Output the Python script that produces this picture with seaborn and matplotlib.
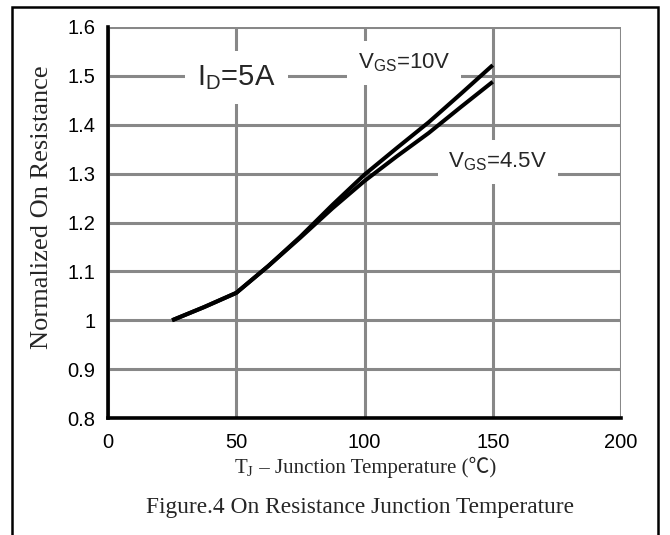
import matplotlib
matplotlib.use("Agg")
import matplotlib.pyplot as plt
import matplotlib.patches as mpatches
from matplotlib.offsetbox import TextArea, HPacker, AnchoredOffsetbox
import seaborn as sns
import pandas as pd

# ---- data ----
temp_c = [25, 37.5, 50, 62.5, 75, 87.5, 100, 112.5, 125, 137.5, 150]
r_vgs_10v = [1.0, 1.027, 1.056, 1.111, 1.171, 1.236, 1.298, 1.352, 1.405, 1.463, 1.522]
r_vgs_45v = [1.0, 1.027, 1.056, 1.111, 1.169, 1.229, 1.285, 1.335, 1.383, 1.436, 1.488]
series_names = ["VGS=10V", "VGS=4.5V"]
x_ticks = [0, 50, 100, 150, 200]
y_ticks = [0.8, 0.9, 1.0, 1.1, 1.2, 1.3, 1.4, 1.5, 1.6]
y_tick_labels = ["0.8", "0.9", "1", "1.1", "1.2", "1.3", "1.4", "1.5", "1.6"]

df = pd.DataFrame({
    "T": temp_c * 2,
    "R": r_vgs_10v + r_vgs_45v,
    "series": [series_names[0]] * len(temp_c) + [series_names[1]] * len(temp_c),
})

sns.set_style("white")
plt.rcParams["font.family"] = ["Liberation Sans", "DejaVu Sans"]
plt.rcParams["mathtext.fontset"] = "custom"
plt.rcParams["mathtext.rm"] = "Liberation Serif"
plt.rcParams["mathtext.sf"] = "Liberation Sans"

fig = plt.figure(figsize=(6.7, 5.35), dpi=100)
ax = fig.add_axes([108 / 670, 1 - 418 / 535, (621 - 108) / 670, (418 - 27) / 535])

sns.lineplot(data=df, x="T", y="R", units="series", estimator=None,
             color="black", linewidth=2.9, ax=ax, legend=False, zorder=5)
for ln in ax.lines:
    ln.set_solid_joinstyle("round")
    ln.set_solid_capstyle("butt")

ax.set_xlim(0, 200)
ax.set_ylim(0.8, 1.6)
ax.set_xticks(x_ticks)
ax.set_yticks(y_ticks)
ax.set_yticklabels(y_tick_labels)
ax.tick_params(axis="both", length=0, labelsize=14.5, colors="black")
ax.tick_params(axis="x", pad=11)
ax.tick_params(axis="y", pad=9)
ax.grid(True, color="#888888", linewidth=2.2)
ax.set_axisbelow(True)
for s in ["top", "right"]:
    ax.spines[s].set_visible(False)
for s in ["left", "bottom"]:
    ax.spines[s].set_color("black")
    ax.spines[s].set_linewidth(2.6)
    ax.spines[s].set_zorder(6)
ax.set_xlabel("")
ax.set_ylabel("")

# annotations with white boxes that interrupt the grid
ax.text(50, 1.497, r"I$_{\mathsf{D}}$=5A", fontsize=21, ha="center", va="center",
        zorder=4, bbox=dict(boxstyle="square,pad=0.42", fc="white", ec="none"))
ax.text(115.5, 1.526, r"V$_{\mathsf{GS}}$=10V", fontsize=16, ha="center", va="center",
        zorder=4, bbox=dict(boxstyle="square,pad=0.48", fc="white", ec="none"))
ax.text(152, 1.324, r"V$_{\mathsf{GS}}$=4.5V", fontsize=16, ha="center", va="center",
        zorder=4, bbox=dict(boxstyle="square,pad=0.48", fc="white", ec="none"))

# x axis label (serif), built from pieces so the ℃ sign can fall back to a CJK font
lab_size = 15
ta1 = TextArea(r"T$_{\mathrm{J}}$", textprops=dict(family="Liberation Serif", fontsize=lab_size))
ta2 = TextArea(" – Junction Temperature (℃)",
               textprops=dict(family=["Liberation Serif", "Noto Sans CJK SC"], fontsize=lab_size))
pack = HPacker(children=[ta1, ta2], align="baseline", pad=0, sep=0)
anch = AnchoredOffsetbox(loc="center", child=pack, frameon=False, pad=0, borderpad=0,
                         bbox_to_anchor=(365 / 670, 1 - 468 / 535),
                         bbox_transform=fig.transFigure)
fig.add_artist(anch)

fig.text(360 / 670, 1 - 508 / 535, "Figure.4 On Resistance Junction Temperature",
         family=["Liberation Serif"], fontsize=16.8, ha="center", va="center")
fig.text(42 / 670, 1 - 207 / 535, "Normalized On Resistance",
         family=["Liberation Serif"], fontsize=19, ha="center", va="center",
         rotation=90)

# outer frame
frame = mpatches.Rectangle((12 / 670, -0.05), (658 - 12) / 670, (1 - 7 / 535) + 0.05,
                           transform=fig.transFigure, fill=False, ec="black",
                           lw=1.8, clip_on=False)
fig.patches.append(frame)

fig.savefig("out.png", dpi=100, facecolor="white")
